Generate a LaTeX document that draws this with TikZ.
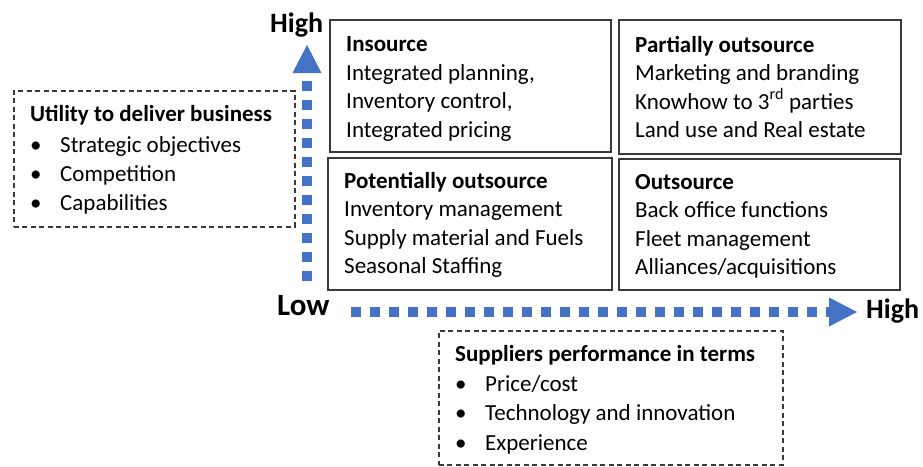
\documentclass[tikz,border=0pt]{standalone}
\usepackage{fontspec}
\setmainfont{Carlito}
\usetikzlibrary{arrows.meta}
\definecolor{axisblue}{HTML}{4472C4}
\definecolor{boxgray}{HTML}{3A3A3A}
\begin{document}
\begin{tikzpicture}[x=1pt,y=-1pt,
  qbox/.style={draw=boxgray,line width=1.5pt,rectangle,inner sep=0pt,anchor=north west},
  dbox/.style={draw=boxgray,line width=1.6pt,dash pattern=on 5pt off 3.5pt,rectangle,inner sep=0pt,anchor=north west},
  txt/.style={inner sep=0pt,anchor=base west,font=\fontsize{23}{28}\selectfont},
  ttl/.style={txt,font=\fontsize{23}{28}\selectfont\bfseries},
  axlab/.style={inner sep=0pt,anchor=base west,font=\fontsize{28}{30}\selectfont\bfseries},
  axisline/.style={draw=axisblue,line width=10pt,dash pattern=on 10pt off 9pt,
    -{Triangle[length=28pt,width=29pt,line width=0pt]}},
]
\useasboundingbox (0,0) rectangle (923,466);
% quadrant boxes
\node[qbox,minimum width=281pt,minimum height=132pt] (q1) at (329,19) {};
\node[qbox,minimum width=282pt,minimum height=134pt] (q2) at (618,19) {};
\node[qbox,minimum width=284pt,minimum height=132pt] (q3) at (327,157) {};
\node[qbox,minimum width=281pt,minimum height=131pt] (q4) at (618,158) {};
% dashed boxes
\node[dbox,minimum width=281pt,minimum height=136pt] (lb) at (13,90) {};
\node[dbox,minimum width=344pt,minimum height=134pt] (bb) at (438,330) {};
% quadrant texts
\node[ttl] (t1a) at (346,51) {Insource};
\node[txt] (t1b) at (346,80) {Integrated planning,};
\node[txt] (t1c) at (346,108) {Inventory control,};
\node[txt] (t1d) at (346,137) {Integrated pricing};
\node[ttl] (t2a) at (635,52) {Partially outsource};
\node[txt] (t2b) at (635,80.5) {Marketing and branding};
\node[txt] (t2c) at (635,109) {Knowhow to 3\textsuperscript{rd} parties};
\node[txt] (t2d) at (635,137.5) {Land use and Real estate};
\node[ttl] (t3a) at (344,188) {Potentially outsource};
\node[txt] (t3b) at (344,216.5) {Inventory management};
\node[txt] (t3c) at (344,245) {Supply material and Fuels};
\node[txt] (t3d) at (344,273.5) {Seasonal Staffing};
\node[ttl] (t4a) at (635,189) {Outsource};
\node[txt] (t4b) at (635,217.5) {Back office functions};
\node[txt] (t4c) at (635,246) {Fleet management};
\node[txt] (t4d) at (635,274.5) {Alliances/acquisitions};
% left box text
\node[ttl] (l0) at (30,121) {Utility to deliver business};
\node[txt] (l1) at (30,152) {\makebox[30pt][l]{•}Strategic objectives};
\node[txt] (l2) at (30,181) {\makebox[30pt][l]{•}Competition};
\node[txt] (l3) at (30,210) {\makebox[30pt][l]{•}Capabilities};
% bottom box text
\node[ttl] (b0) at (455,361) {Suppliers performance in terms};
\node[txt] (b1) at (455,391) {\makebox[30pt][l]{•}Price/cost};
\node[txt] (b2) at (455,420) {\makebox[30pt][l]{•}Technology and innovation};
\node[txt] (b3) at (455,450) {\makebox[30pt][l]{•}Experience};
% axes
\coordinate (vs) at (307,281);
\coordinate (ve) at (307,45);
\coordinate (hs) at (351,312);
\coordinate (he) at (857,312);
\draw[axisline] (vs) -- (ve);
\draw[axisline] (hs) -- (he);
\node[axlab] (hv) at (270,32) {High};
\node[axlab,font=\fontsize{31}{33}\selectfont\bfseries] (lo) at (277,315) {Low};
\node[axlab] (hh) at (866,318) {High};
\end{tikzpicture}
\end{document}
